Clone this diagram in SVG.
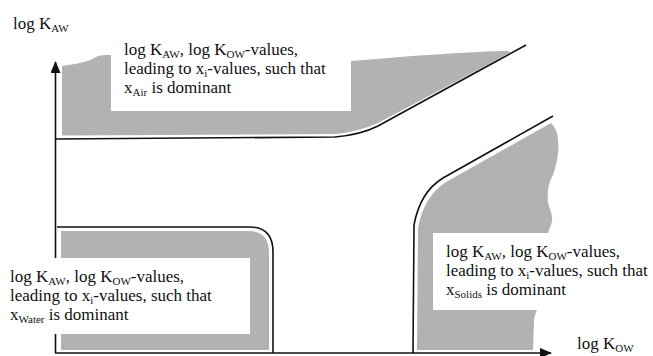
<svg xmlns="http://www.w3.org/2000/svg" width="653" height="356" viewBox="0 0 653 356">
<style>
text{font-family:"Liberation Serif","Times New Roman",serif;font-size:17px;fill:#111}
.sub{font-size:11px}
.region{fill:#b2b2b2;stroke:none}
.box{fill:#ffffff;stroke:none}
.ln{fill:none;stroke:#111;stroke-width:1.6}
</style>
<defs>
<marker id="arr" markerWidth="12" markerHeight="10" refX="11" refY="5" orient="auto" markerUnits="userSpaceOnUse">
<path d="M0,0 L12,5 L0,10 Z" fill="#111"/>
</marker>
</defs>
<g id="connectors">
<path class="ln" d="M55.5,353 L55.5,62" marker-end="url(#arr)"/>
<path class="ln" d="M55,353 L551,353" marker-end="url(#arr)"/>
<path class="ln" d="M56,139 L335,137 Q360,135 378,126 L526,45"/>
<path class="ln" d="M57,227 L250,227 Q273,227 273,252 L273,353"/>
<path class="ln" d="M553,116 L443,178 Q420,192 414,225 L413,353"/>
</g>
<g id="region-air">
<path class="region" d="M62,66 C75,64 88,62 94,58 C99,55 104,55 111,55 L111,111 L351,111 L351,61 C400,57 460,52 505,51 C509,51 511,52 510,53 L377,123.5 Q358,132 335,134 L62,135.5 Z"/>
<text x="124" y="55">log K<tspan class="sub" dy="3">AW</tspan><tspan dy="-3">, log K</tspan><tspan class="sub" dy="3">OW</tspan><tspan dy="-3">-values,</tspan></text>
<text x="124" y="74">leading to x<tspan class="sub" dy="3">i</tspan><tspan dy="-3">-values, such that</tspan></text>
<text x="124" y="93">x<tspan class="sub" dy="3">Air</tspan><tspan dy="-3"> is dominant</tspan></text>
</g>
<g id="region-water">
<path class="region" d="M61,231 L249,231 Q269,231 269,253 L269,350 L61,350 Z"/>
<rect class="box" x="0" y="258" width="250" height="76"/>
<text x="10" y="282">log K<tspan class="sub" dy="3">AW</tspan><tspan dy="-3">, log K</tspan><tspan class="sub" dy="3">OW</tspan><tspan dy="-3">-values,</tspan></text>
<text x="10" y="301">leading to x<tspan class="sub" dy="3">i</tspan><tspan dy="-3">-values, such that</tspan></text>
<text x="10" y="320">x<tspan class="sub" dy="3">Water</tspan><tspan dy="-3"> is dominant</tspan></text>
</g>
<g id="region-solids">
<path class="region" d="M551,123 C556,128 558,134 558,142 C559,150 558,160 553,175 C549,182 547,190 548,203 C550,210 553,215 552,222 C548,232 544,245 541,265 L540,303 C538,308 535,313 534,320 L533,350 L417,350 L418,228 Q424,196 446,182 Z"/>
<rect class="box" x="433" y="233" width="130" height="77"/>
<text x="446" y="257">log K<tspan class="sub" dy="3">AW</tspan><tspan dy="-3">, log K</tspan><tspan class="sub" dy="3">OW</tspan><tspan dy="-3">-values,</tspan></text>
<text x="446" y="276">leading to x<tspan class="sub" dy="3">i</tspan><tspan dy="-3">-values, such that</tspan></text>
<text x="446" y="295">x<tspan class="sub" dy="3">Solids</tspan><tspan dy="-3"> is dominant</tspan></text>
</g>
<g id="axis-labels">
<text x="13" y="29">log K<tspan class="sub" dy="3">AW</tspan></text>
<text x="577" y="349">log K<tspan class="sub" dy="3">OW</tspan></text>
</g>
</svg>
